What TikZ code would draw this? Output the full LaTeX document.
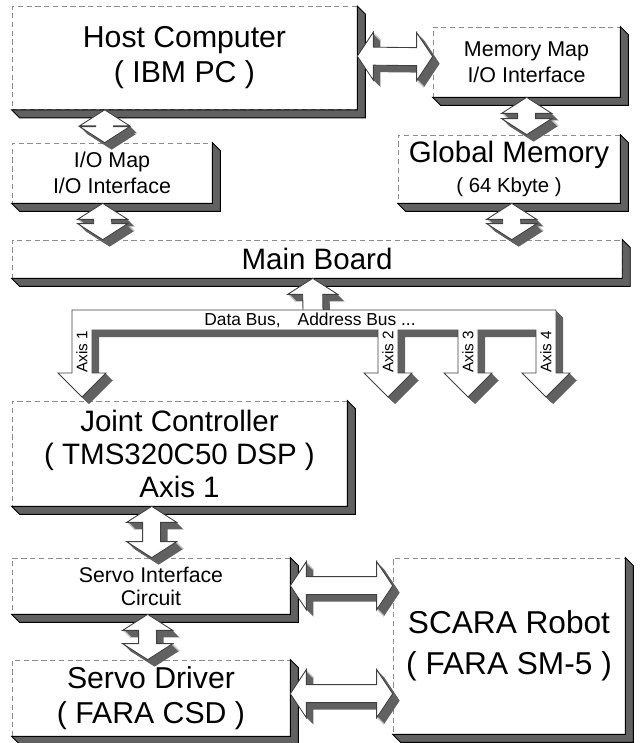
\documentclass[tikz,border=0pt]{standalone}
\usepackage{fontspec}
\setmainfont{Liberation Sans}
\usetikzlibrary{calc}

% extruded flat shape: shaded depth, then white face
\newcommand\extrude[1]{%
  \foreach \k in {1,...,7} \fill[side, transform canvas={shift={(\k,\k)}}] #1;
  \filldraw[face] #1;}
% block arrow outlines
\newcommand\udarr[2]{(#1) -- ($(#1)+(25,16)$) -- ($(#1)+(9,16)$) -- ($(#2)+(9,-16)$) -- ($(#2)+(25,-16)$) -- (#2) -- ($(#2)+(-25,-16)$) -- ($(#2)+(-9,-16)$) -- ($(#1)+(-9,16)$) -- ($(#1)+(-25,16)$) -- cycle}
\newcommand\lrarr[2]{(#1) -- ($(#1)+(16,-24)$) -- ($(#1)+(16,-9)$) -- ($(#2)+(-16,-9)$) -- ($(#2)+(-16,-24)$) -- (#2) -- ($(#2)+(-16,24)$) -- ($(#2)+(-16,9)$) -- ($(#1)+(16,9)$) -- ($(#1)+(16,24)$) -- cycle}
\newcommand\uparr[2]{(#1) -- ($(#1)+(25,16)$) -- ($(#1)+(10,16)$) -- ($(#2)+(10,0)$) -- ($(#2)+(-10,0)$) -- ($(#1)+(-10,16)$) -- ($(#1)+(-25,16)$) -- cycle}
\newcommand\buscomb{(72,310) -- (556,310) -- (556,373) -- (570,373) -- (546,397) -- (522,373) -- (536,373) -- (536,330) -- (478,330) -- (478,373) -- (492,373) -- (468,397) -- (444,373) -- (458,373) -- (458,330) -- (398,330) -- (398,373) -- (412,373) -- (388,397) -- (364,373) -- (378,373) -- (378,330) -- (92,330) -- (92,373) -- (106,373) -- (82,397) -- (58,373) -- (72,373) -- cycle}

\begin{document}
\begin{tikzpicture}[x=0.02cm,y=-0.02cm,
  box/.style={draw=black!45,densely dashed,fill=white,inner sep=0pt,align=center},
  side/.style={fill=black!62},
  sideline/.style={draw=black,fill=black!62,line width=0.5pt},
  face/.style={draw=black!75,fill=white,line width=0.5pt},
  bigtext/.style={font=\fontsize{17.2}{20}\selectfont},
  midtext/.style={font=\fontsize{12.2}{14.8}\selectfont}]
	\useasboundingbox (0,0) rectangle (639,743);
	% boxes
	\node[box,bigtext,minimum width=6.9cm,minimum height=2.06cm] (host) at (184.5,58) {Host Computer\\( IBM PC )};
	\node[box,midtext,minimum width=3.74cm,minimum height=1.4cm] (mmap) at (526.5,62) {Memory Map\\I/O Interface};
	\node[box,midtext,minimum width=4cm,minimum height=1.2cm] (iomap) at (112,173) {I/O Map\\I/O Interface};
	\node[box,font=\fontsize{16.8}{17}\selectfont,minimum width=4.44cm,minimum height=1.36cm] (gmem) at (509,169) {Global Memory\\{\fontsize{11.6}{17}\selectfont ( 64 Kbyte )}};
	\node[box,font=\fontsize{16.8}{20}\selectfont,minimum width=12.2cm,minimum height=0.76cm] (main) at (317,259) {Main Board};
	\node[box,font=\fontsize{16.8}{18.8}\selectfont,minimum width=6.7cm,minimum height=2.1cm] (jc) at (179.5,453.5) {Joint Controller\\( TMS320C50 DSP )\\Axis 1};
	\node[box,font=\fontsize{12.1}{13}\selectfont,minimum width=5.56cm,minimum height=1.12cm] (sic) at (151,586) {Servo Interface\\Circuit};
	\node[box,bigtext,minimum width=5.56cm,minimum height=1.52cm] (sd) at (151,698) {Servo Driver\\( FARA CSD )};
	\node[box,font=\fontsize{18}{23.3}\selectfont,minimum width=4.64cm,minimum height=3.52cm] (scara) at (509,646) {SCARA Robot\\( FARA SM-5 )};
	\foreach \n in {host,mmap,iomap,gmem,main,jc,sic,sd,scara}
		\filldraw[sideline] (\n.north east) -- ++(8,8) -- ($(\n.south east)+(8,8)$) -- ($(\n.south west)+(8,8)$) -- (\n.south west) -- (\n.south east) -- cycle;
	% arrow ends
	\coordinate (hi1) at ($(host.south west)+(93,0)$);
	\coordinate (hi2) at ($(iomap.north west)+(93,0)$);
	\coordinate (im1) at ($(iomap.south west)+(91,0)$);
	\coordinate (im2) at ($(main.north west)+(91,0)$);
	\coordinate (mg1) at ($(mmap.south west)+(94,0)$);
	\coordinate (mg2) at ($(gmem.north west)+(129,0)$);
	\coordinate (gm1) at ($(gmem.south west)+(114,0)$);
	\coordinate (gm2) at ($(main.north west)+(500,0)$);
	\coordinate (js1) at ($(jc.south west)+(140,0)$);
	\coordinate (js2) at ($(sic.north west)+(140,0)$);
	\coordinate (ss1) at ($(sic.south west)+(136,0)$);
	\coordinate (ss2) at ($(sd.north west)+(136,0)$);
	\coordinate (hm1) at ($(host.north east)+(0,50)$);
	\coordinate (hm2) at ($(mmap.north west)+(0,30)$);
	\coordinate (sr1) at ($(sic.north east)+(0,28)$);
	\coordinate (sr2) at ($(scara.north west)+(0,28)$);
	\coordinate (dr1) at ($(sd.north east)+(0,34)$);
	\coordinate (dr2) at ($(scara.north west)+(0,136)$);
	\coordinate (bm1) at ($(main.south west)+(301,0)$);
	\coordinate (bm2) at (313,312);
	% arrows
	\extrude{\udarr{hi1}{hi2}}
	\extrude{\udarr{im1}{im2}}
	\extrude{\udarr{mg1}{mg2}}
	\extrude{\udarr{gm1}{gm2}}
	\extrude{\udarr{js1}{js2}}
	\extrude{\udarr{ss1}{ss2}}
	\extrude{\lrarr{hm1}{hm2}}
	\extrude{\lrarr{sr1}{sr2}}
	\extrude{\lrarr{dr1}{dr2}}
	\extrude{\uparr{bm1}{bm2}}
	% bus
	\extrude{\buscomb}
	\node[font=\fontsize{9.9}{11}\selectfont] (bus) at (310,320) {Data Bus,\hspace{0.7em} Address Bus ...};
	\foreach \x/\t in {82/1,388/2,468/3,546/4}
		\node[rotate=90,font=\fontsize{8.7}{10}\selectfont] (ax\t) at (\x,352) {Axis \t};
\end{tikzpicture}
\end{document}
